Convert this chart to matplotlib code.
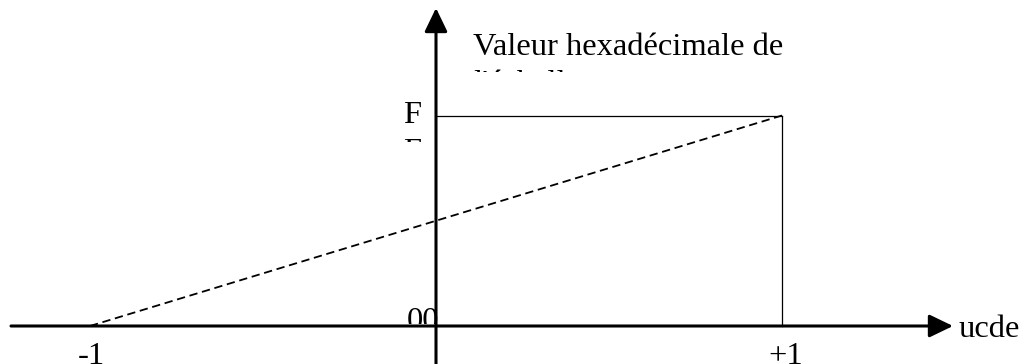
import matplotlib
matplotlib.use('Agg')
import matplotlib.pyplot as plt
from matplotlib.transforms import Affine2D, Bbox

# donnees
ucde = [-1, 0, 1]            # commande
val_ff = 0xFF                # valeur max de l'echelle
rampe = [0, val_ff / 2, val_ff]
x_labels = ['-1', '+1']

W, H = 1028, 364
plt.rcParams['font.family'] = ['Liberation Serif', 'DejaVu Serif']
fs = 23.4

fig = plt.figure(figsize=(W / 100, H / 100), dpi=100)
ax = fig.add_axes([0, 0, 1, 1])
ax.axis('off')

# echelle : -1 -> 90px, +1 -> 782px ; 0 -> 326px, FF -> 115.5px
sx = 346.0
sy = 210.5 / val_ff
ax.set_xlim(-90 / sx - 1, 1 + (W - 782) / sx)
ax.set_ylim(-(H - 326) / sy, 326 / sy)

# pixel (origine en haut a gauche) -> affichage
px = Affine2D().scale(1, -1).translate(0, H)

def txt(x, y, s, clip_y=None):
    t = ax.text(x, y, s, transform=px, fontsize=fs, ha='left', va='baseline',
                color='black', clip_on=True)
    if clip_y is not None:
        t.set_clip_box(Bbox.from_extents(0, H - clip_y, W, H))
    return t

# axes avec fleches
fleche = dict(arrowstyle='-|>,head_length=1.45,head_width=0.7',
              lw=2.2, color='black', shrinkA=0, shrinkB=0, mutation_scale=10)
ax.annotate('', xy=(1 + (953 - 782) / sx, 0), xytext=(-1 - 79 / sx, 0),
            arrowprops=fleche)
ax.annotate('', xy=(0, (326 - 8) / sy), xytext=(0, -(H + 5 - 326) / sy),
            arrowprops=fleche)

# rampe en pointilles
ax.plot(ucde, rampe, color='black', lw=1.3, linestyle=(0, (4.6, 2.6)))

# palier a FF et verticale a +1
ax.plot([ucde[1], ucde[2]], [val_ff, val_ff], color='black', lw=0.9)
ax.plot([ucde[2], ucde[2]], [val_ff, 0], color='black', lw=0.9)

# textes
txt(473, 55, 'Valeur hexadécimale de')
txt(473, 92, "l'échelle", clip_y=72)
txt(403, 123, 'F')
txt(403, 160, 'F', clip_y=142)
txt(407, 329, '00', clip_y=324)
txt(78, 363.5, x_labels[0])
txt(768, 364, x_labels[1])
txt(959, 337, 'ucde')

fig.savefig('out.png', dpi=100)
